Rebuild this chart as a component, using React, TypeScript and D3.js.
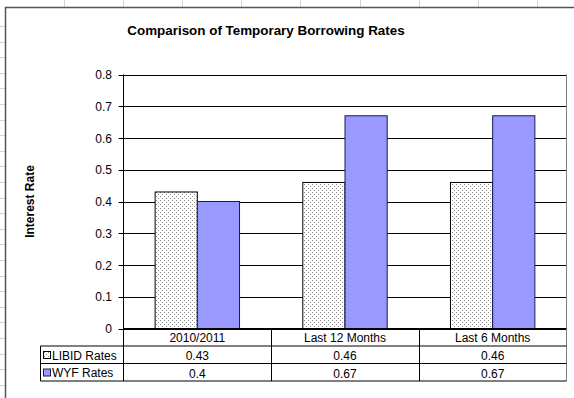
import React from "react";
import * as d3 from "d3";

const categories = ["2010/2011", "Last 12 Months", "Last 6 Months"];
const seriesNames = ["LIBID Rates", "WYF Rates"];
const libidRates = [0.43, 0.46, 0.46];
const wyfRates = [0.4, 0.67, 0.67];
const yTicks = [0, 0.1, 0.2, 0.3, 0.4, 0.5, 0.6, 0.7, 0.8];

const W = 574;
const H = 398;
const FONT = "'Liberation Sans', Arial, sans-serif";

export default function App() {
  const plotLeft = 123.5;
  const plotRight = 566.5;
  const plotTop = 74.5;
  const plotBottom = 328.5;
  const rowH = 17.5;
  const tableLeft = 40.5;

  const y = d3.scaleLinear().domain([0, 0.8]).range([plotBottom, plotTop]);
  const x = d3.scaleBand<string>().domain(categories).range([plotLeft, plotRight]);
  // Excel-style gap width of 150%: two bars plus 1.5 bar widths of gap per category
  const barW = x.bandwidth() / 3.5;

  const series = [
    { name: seriesNames[0], values: libidRates, fill: "url(#dots)", stroke: "#000" },
    { name: seriesNames[1], values: wyfRates, fill: "#9999ff", stroke: "#1a1a50" },
  ];

  // spreadsheet grid peeking around the chart object
  const colLines = d3.range(0, 10).map((i) => 64 + i * 59.1);
  const rowLines = d3.range(0, 26).map((i) => 26 + i * 15.6);

  const row1 = plotBottom + rowH;
  const row2 = row1 + rowH;
  const row3 = row2 + rowH;

  return (
    <svg
      width={W}
      height={H}
      style={{ position: "absolute", left: 0, top: 0, background: "#fff" }}
      fontFamily={FONT}
    >
      <defs>
        <pattern id="dots" width="4" height="4" patternUnits="userSpaceOnUse">
          <rect width="4" height="4" fill="#fff" />
          <rect x="0" y="0" width="1" height="1" fill="#8a8a8a" />
          <rect x="2" y="2" width="1" height="1" fill="#8a8a8a" />
        </pattern>
      </defs>

      {colLines.map((cx, i) => (
        <line key={"c" + i} x1={Math.round(cx) + 0.5} x2={Math.round(cx) + 0.5} y1={0} y2={7} stroke="#d4d4d4" />
      ))}
      {rowLines.map((ry, i) => (
        <line key={"r" + i} x1={0} x2={5} y1={Math.round(ry) + 0.5} y2={Math.round(ry) + 0.5} stroke="#d4d4d4" />
      ))}

      {/* chart object frame */}
      <rect x={5.5} y={7.5} width={W + 10} height={H + 10} fill="#fff" stroke="#555" strokeWidth={1.5} />

      <text x={266} y={35} textAnchor="middle" fontSize={13.4} fontWeight="bold" fill="#000">
        Comparison of Temporary Borrowing Rates
      </text>

      <text
        transform={`translate(33.5,${(plotTop + plotBottom) / 2}) rotate(-90)`}
        textAnchor="middle"
        fontSize={12}
        fontWeight="bold"
        fill="#000"
      >
        Interest Rate
      </text>

      {/* gridlines */}
      {yTicks.map((t) => (
        <line
          key={"g" + t}
          x1={plotLeft}
          x2={plotRight}
          y1={Math.round(y(t)) + 0.5}
          y2={Math.round(y(t)) + 0.5}
          stroke="#000"
          strokeWidth={1}
        />
      ))}

      {/* y axis ticks and labels */}
      {yTicks.map((t) => (
        <g key={"t" + t}>
          <line x1={plotLeft - 5} x2={plotLeft} y1={Math.round(y(t)) + 0.5} y2={Math.round(y(t)) + 0.5} stroke="#000" />
          <text x={112} y={y(t) + 4.5} textAnchor="end" fontSize={12} fill="#000">
            {d3.format("")(t)}
          </text>
        </g>
      ))}

      {/* bars */}
      {series.map((s, si) =>
        s.values.map((v, ci) => {
          const cat = categories[ci];
          const x0 = (x(cat) as number) + x.bandwidth() / 2 - barW + si * barW;
          return (
            <rect
              key={s.name + ci}
              x={x0}
              y={y(v)}
              width={barW}
              height={y(0) - y(v)}
              fill={s.fill}
              stroke={s.stroke}
              strokeWidth={1}
            />
          );
        })
      )}

      {/* plot area border */}
      <line x1={plotRight} x2={plotRight} y1={plotTop} y2={row3} stroke="#808080" />
      <line x1={plotLeft} x2={plotLeft} y1={plotTop} y2={row3} stroke="#000" />
      <line x1={plotLeft} x2={plotRight} y1={plotBottom} y2={plotBottom} stroke="#000" />

      {/* data table */}
      <line x1={tableLeft} x2={plotRight} y1={row1} y2={row1} stroke="#000" />
      <line x1={tableLeft} x2={plotRight} y1={row2} y2={row2} stroke="#000" />
      <line x1={tableLeft} x2={plotRight} y1={row3} y2={row3} stroke="#000" />
      <line x1={tableLeft} x2={tableLeft} y1={row1} y2={row3} stroke="#000" />
      {categories.map((c, i) =>
        i > 0 ? (
          <line
            key={"v" + c}
            x1={Math.round(x(c) as number) + 0.5}
            x2={Math.round(x(c) as number) + 0.5}
            y1={plotBottom}
            y2={row3}
            stroke="#000"
          />
        ) : null
      )}
      {categories.map((c) => (
        <text
          key={"cl" + c}
          x={(x(c) as number) + x.bandwidth() / 2}
          y={plotBottom + 13.5}
          textAnchor="middle"
          fontSize={12}
          fill="#000"
        >
          {c}
        </text>
      ))}
      {series.map((s, si) => {
        const top = row1 + si * rowH;
        return (
          <g key={"row" + s.name}>
            <rect x={43.5} y={top + 5.5} width={7} height={7} fill={s.fill} stroke={s.stroke} />
            <text x={52} y={top + 13.5} fontSize={12} fill="#000">
              {s.name}
            </text>
            {s.values.map((v, ci) => (
              <text
                key={"val" + ci}
                x={(x(categories[ci]) as number) + x.bandwidth() / 2}
                y={top + 14}
                textAnchor="middle"
                fontSize={12}
                fill="#000"
              >
                {String(v)}
              </text>
            ))}
          </g>
        );
      })}
    </svg>
  );
}
